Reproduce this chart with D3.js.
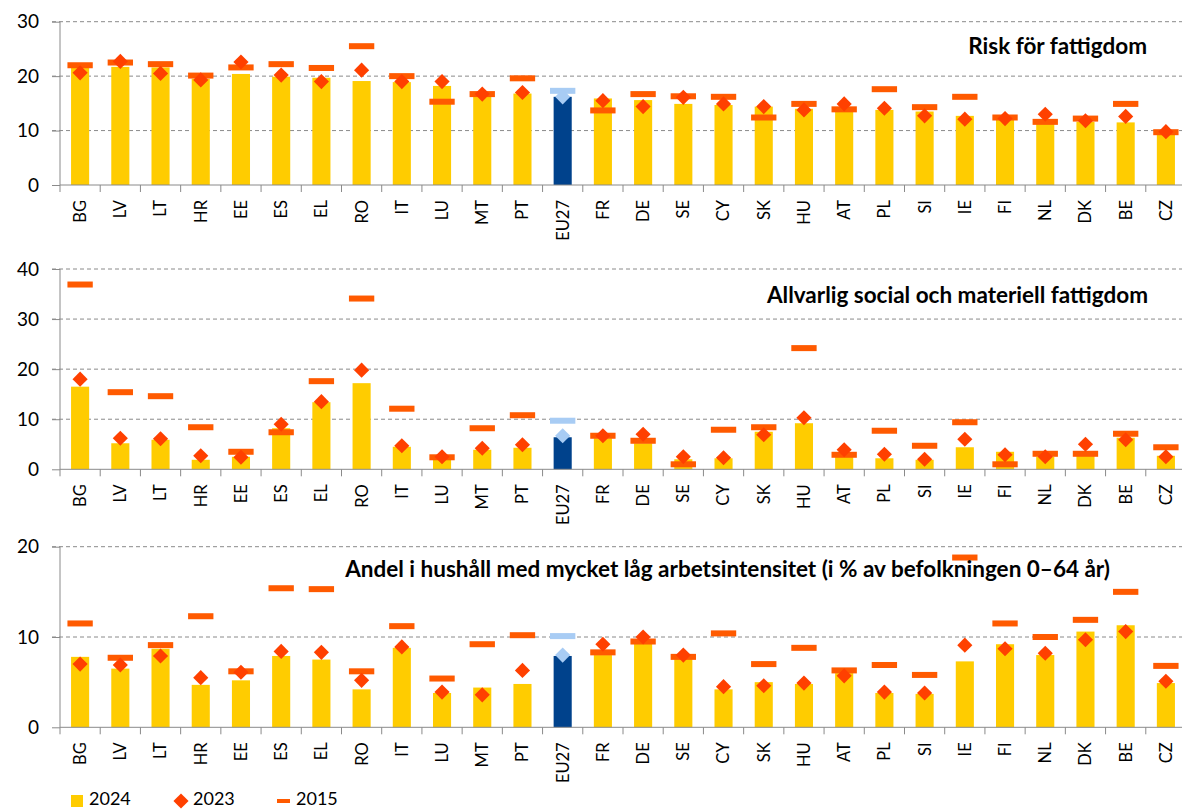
<!DOCTYPE html>
<html><head><meta charset="utf-8">
<script src="https://cdn.jsdelivr.net/npm/d3@7"></script>
<style>body{margin:0;background:#fff}svg{display:block}</style>
</head><body>
<svg id="c" width="1182" height="809"></svg>
<script>
const categories = ["BG","LV","LT","HR","EE","ES","EL","RO","IT","LU","MT","PT","EU27","FR","DE","SE","CY","SK","HU","AT","PL","SI","IE","FI","NL","DK","BE","CZ"];
const seriesNames = ["2024","2023","2015"];

// Panel 1: Risk för fattigdom
const risk2024 = [21.6,21.7,21.6,19.5,20.4,19.9,19.7,19.1,18.9,18.2,16.2,16.8,16.2,15.9,15.6,14.9,14.7,14.4,14.0,13.8,13.8,13.5,12.7,12.2,11.3,11.6,11.5,9.4];
const risk2023 = [20.6,22.7,20.5,19.3,22.6,20.2,19.0,21.1,19.0,19.0,16.7,17.0,16.2,15.5,14.4,16.1,14.9,14.4,13.8,14.9,14.1,12.7,12.1,12.2,13.0,11.8,12.6,9.8];
const risk2015 = [22.0,22.5,22.2,20.1,21.6,22.2,21.5,25.5,20.0,15.3,16.7,19.6,17.3,13.7,16.7,16.3,16.2,12.4,14.9,13.9,17.6,14.3,16.2,12.4,11.6,12.2,14.9,9.7];

// Panel 2: Allvarlig social och materiell fattigdom
const smsd2024 = [16.5,5.2,5.9,1.9,2.5,8.2,13.4,17.2,4.5,2.2,3.9,4.3,6.4,6.2,5.2,2.0,2.2,7.5,9.2,2.5,2.2,1.9,4.4,3.5,2.5,3.4,6.3,2.7];
const smsd2023 = [18.0,6.2,6.1,2.7,2.4,9.0,13.5,19.8,4.7,2.5,4.2,4.9,6.7,6.7,7.0,2.5,2.3,6.9,10.3,3.9,3.0,2.0,6.0,2.9,2.5,5.0,5.9,2.5];
const smsd2015 = [36.9,15.4,14.6,8.4,3.5,7.4,17.6,34.1,12.1,2.4,8.2,10.8,9.7,6.7,5.7,1.0,7.9,8.4,24.2,2.9,7.7,4.7,9.4,1.0,3.1,3.1,7.1,4.4];

// Panel 3: Andel i hushåll med mycket låg arbetsintensitet
const lwi2024 = [7.8,6.5,8.7,4.7,5.2,7.9,7.5,4.2,8.8,3.8,4.4,4.8,7.9,8.0,9.7,7.6,4.2,5.0,4.8,6.0,3.8,3.7,7.3,9.2,8.0,10.6,11.3,4.9];
const lwi2023 = [7.0,6.9,7.9,5.5,6.1,8.4,8.3,5.2,8.9,3.9,3.6,6.3,8.0,9.2,10.0,8.0,4.5,4.6,4.9,5.7,3.9,3.8,9.1,8.7,8.2,9.7,10.6,5.1];
const lwi2015 = [11.5,7.7,9.1,12.3,6.2,15.4,15.3,6.2,11.2,5.4,9.2,10.2,10.1,8.3,9.5,7.8,10.4,7.0,8.8,6.3,6.9,5.8,18.8,11.5,10.0,11.9,15.0,6.8];

const titles = ["Risk för fattigdom","Allvarlig social och materiell fattigdom","Andel i hushåll med mycket låg arbetsintensitet (i % av befolkningen 0–64 år)"];
const yMax = [30,40,20];
const yTicks = [[0,10,20,30],[0,10,20,30,40],[0,10,20]];

const panels = [
  {v24:risk2024,v23:risk2023,v15:risk2015,top:21.7,bottom:185,title:titles[0],tx:1147,ty:54,max:yMax[0],ticks:yTicks[0]},
  {v24:smsd2024,v23:smsd2023,v15:smsd2015,top:269,bottom:469.3,title:titles[1],tx:1148,ty:303,max:yMax[1],ticks:yTicks[1]},
  {v24:lwi2024,v23:lwi2023,v15:lwi2015,top:546.7,bottom:727.3,title:titles[2],tx:1110,ty:577,max:yMax[2],ticks:yTicks[2]}
];

const C = {bar:"#FFCC00",dia:"#FF4000",dash:"#FF5A00",euBar:"#00428C",euLight:"#A8CCF4",grid:"#8a8a8a",axis:"#8a8a8a"};
const FONT = "Lato, 'Open Sans', sans-serif";
const svg = d3.select("#c");
const x = d3.scaleBand().domain(categories).range([60,1186]).paddingInner(0).paddingOuter(0);
const bw = x.bandwidth();
const barW = bw*0.45, dashW = bw*0.63, dashH = 6;
const diamond = d3.symbol().type(d3.symbolSquare).size(115);

panels.forEach(p=>{
  const y = d3.scaleLinear().domain([0,p.max]).range([p.bottom,p.top]);
  const g = svg.append("g");
  g.selectAll(".grid").data(p.ticks.filter(t=>t>0)).join("line")
    .attr("x1",52).attr("x2",1182).attr("y1",d=>y(d)).attr("y2",d=>y(d))
    .attr("stroke",C.grid).attr("stroke-width",1).attr("stroke-dasharray","4,3");
  const ya = d3.axisLeft(y).tickValues(p.ticks).tickSize(8).tickPadding(13).tickFormat(d3.format("d"));
  const yg = g.append("g").attr("transform","translate(60,0)").call(ya);
  yg.select(".domain").attr("stroke",C.axis).attr("d",`M0,${p.top}V${p.bottom}`);
  yg.selectAll(".tick line").attr("stroke",C.axis);
  yg.selectAll(".tick text").attr("font-family",FONT).attr("font-size",19).attr("fill","#000");
  g.selectAll(".bar").data(categories).join("rect")
    .attr("x",d=>x(d)+(bw-barW)/2).attr("width",barW)
    .attr("y",(d,i)=>y(p.v24[i])).attr("height",(d,i)=>y(0)-y(p.v24[i]))
    .attr("fill",d=>d==="EU27"?C.euBar:C.bar);
  g.selectAll(".dash").data(categories).join("rect")
    .attr("x",d=>x(d)+(bw-dashW)/2).attr("width",dashW)
    .attr("y",(d,i)=>y(p.v15[i])-dashH/2).attr("height",dashH)
    .attr("fill",d=>d==="EU27"?C.euLight:C.dash);
  g.selectAll(".dia").data(categories).join("path")
    .attr("d",diamond)
    .attr("transform",(d,i)=>`translate(${x(d)+bw/2},${y(p.v23[i])}) rotate(45)`)
    .attr("fill",d=>d==="EU27"?C.euLight:C.dia);
  const xa = d3.axisBottom(x).tickSize(0).tickFormat("");
  const xg = g.append("g").attr("transform",`translate(0,${p.bottom})`).call(xa);
  xg.select(".domain").attr("stroke",C.axis).attr("d",`M60,0H1186`);
  g.selectAll(".xt").data(d3.range(categories.length+1)).join("line")
    .attr("x1",i=>60+i*bw).attr("x2",i=>60+i*bw).attr("y1",p.bottom).attr("y2",p.bottom+7)
    .attr("stroke",C.axis);
  g.selectAll(".xl").data(categories).join("text")
    .attr("transform",d=>`translate(${x(d)+bw/2},${p.bottom+15}) rotate(-90)`)
    .attr("text-anchor","end").attr("dy","0.36em")
    .attr("font-family",FONT).attr("font-size",16.5).attr("fill","#000")
    .text(d=>d);
  g.append("text").attr("x",p.tx).attr("y",p.ty).attr("text-anchor","end")
    .attr("font-family",FONT).attr("font-weight","bold").attr("font-size",22.5)
    .attr("fill","#000").text(p.title);
});

const lg = svg.append("g").attr("font-family",FONT).attr("font-size",18);
lg.append("rect").attr("x",71).attr("y",795).attr("width",12).attr("height",12).attr("fill",C.bar);
lg.append("text").attr("x",89).attr("y",805).text(seriesNames[0]);
lg.append("path").attr("d",diamond).attr("transform","translate(181,801) rotate(45)").attr("fill",C.dia);
lg.append("text").attr("x",193).attr("y",805).text(seriesNames[1]);
lg.append("rect").attr("x",277).attr("y",799).attr("width",13).attr("height",4).attr("fill",C.dash);
lg.append("text").attr("x",296).attr("y",805).text(seriesNames[2]);
</script>
</body></html>
